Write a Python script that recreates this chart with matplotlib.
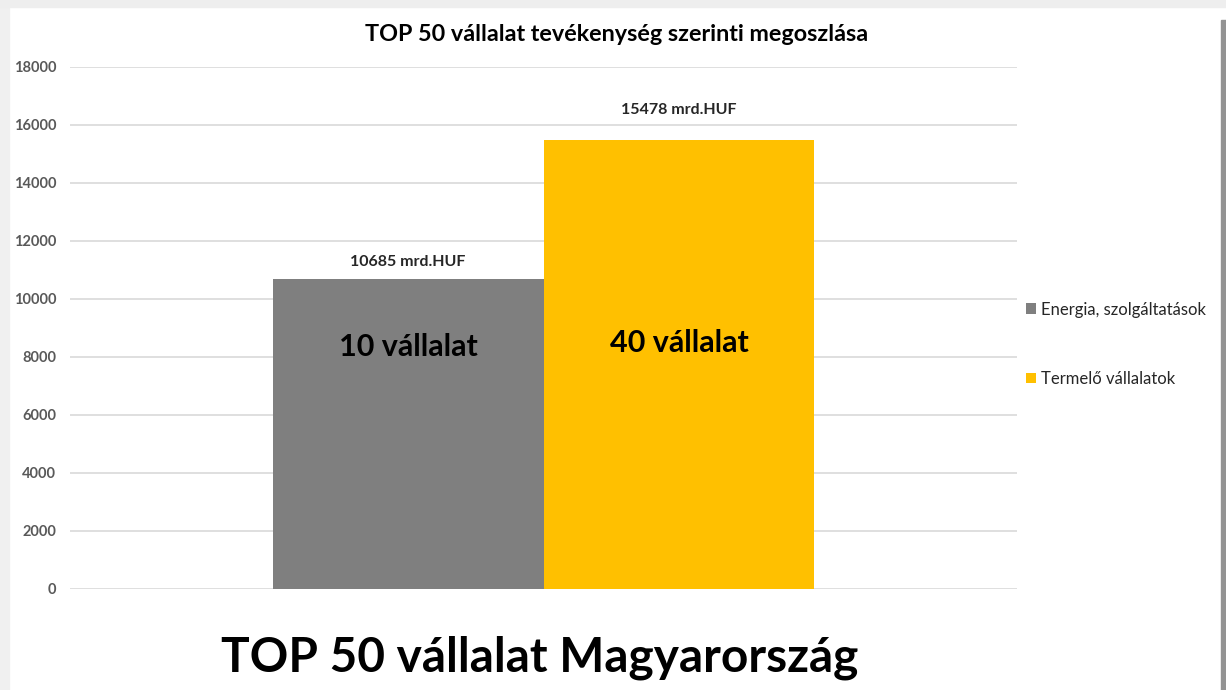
import matplotlib.pyplot as plt
import matplotlib.patches as mpatches
import numpy as np

# chart data
series_names = ['Energia, szolgáltatások', 'Termelő vállalatok']
series_values = [10685, 15478]
series_colors = ['#7F7F7F', '#FFC000']
value_labels = ['10685 mrd.HUF', '15478 mrd.HUF']
inner_labels = ['10 vállalat', '40 vállalat']
y_ticks = [0, 2000, 4000, 6000, 8000, 10000, 12000, 14000, 16000, 18000]

title = 'TOP 50 vállalat tevékenység szerinti megoszlása'
footer = 'TOP 50 vállalat Magyarország'

plt.rcParams['font.family'] = ['Lato', 'DejaVu Sans']

fig = plt.figure(figsize=(12.26, 6.9), dpi=100)
fig.patch.set_facecolor('white')

# shadow / frame edges of the screenshot
fig.patches.append(mpatches.Rectangle((0, 0), 9 / 1226, 1, transform=fig.transFigure,
                                      color='#F0F0F0', zorder=0))
fig.patches.append(mpatches.Rectangle((0, 1 - 7 / 690), 1, 7 / 690, transform=fig.transFigure,
                                      color='#EEEEEE', zorder=0))
fig.patches.append(mpatches.Rectangle((1 - 5 / 1226, 0), 5 / 1226, 1 - 20 / 690,
                                      transform=fig.transFigure, color='#939393', zorder=0))

ax = fig.add_axes([70 / 1226, 1 - 589 / 690, 947 / 1226, 522 / 690])
ax.set_facecolor('white')

width = 0.286
positions = [-width / 2, width / 2]
label_gap = [460, 900]   # data labels sit at different heights above the bars
for i in range(len(series_values)):
    ax.bar(positions[i], series_values[i], width, color=series_colors[i],
           label=series_names[i], zorder=3)
    ax.text(positions[i], series_values[i] + label_gap[i], value_labels[i], ha='center',
            va='baseline', fontsize=11.5, fontweight='bold', color='#262626')

ax.text(positions[0], 8045, inner_labels[0], ha='center', va='baseline',
        fontsize=22, fontweight='bold', color='black', zorder=4)
ax.text(positions[1], 8185, inner_labels[1], ha='center', va='baseline',
        fontsize=22, fontweight='bold', color='black', zorder=4)

ax.set_xlim(-0.5, 0.5)
ax.set_ylim(0, 18000)
ax.set_yticks(y_ticks)
ax.set_yticklabels([str(t) for t in y_ticks], fontsize=10.5, fontweight='bold', color='#595959')
ax.set_xticks([])
ax.tick_params(axis='y', length=0, pad=10)
ax.yaxis.grid(True, color='#D9D9D9', linewidth=1.2, zorder=0)
for s in ax.spines.values():
    s.set_visible(False)

leg = ax.legend(loc='center left', bbox_to_anchor=(1.002, 0.469), frameon=False,
                fontsize=12, handlelength=0.6, handleheight=0.6, handletextpad=0.3,
                labelspacing=3.2, borderaxespad=0)
for t in leg.get_texts():
    t.set_color('#262626')

fig.text(617 / 1226, 1 - 41 / 690, title, ha='center', va='baseline',
         fontsize=16.8, fontweight='bold', color='black')
fig.text(540 / 1226, 1 - 672 / 690, footer, ha='center', va='baseline',
         fontsize=34.4, fontweight='bold', color='black')

fig.savefig('out.png', dpi=100)
